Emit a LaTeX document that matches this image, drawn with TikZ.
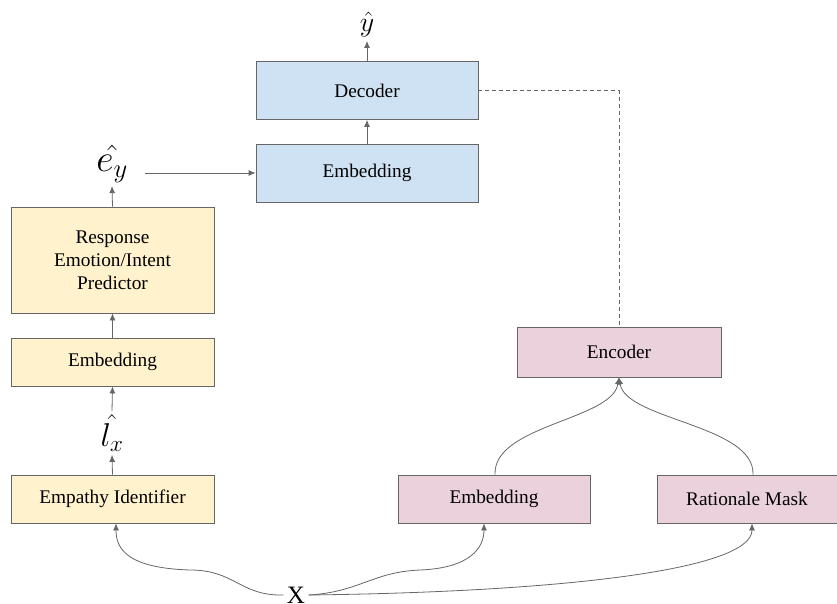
\RequirePackage{fix-cm}
\documentclass[tikz,border=0pt]{standalone}
\usepackage{fontspec}
\setmainfont{Liberation Serif}
\usetikzlibrary{arrows.meta}
\definecolor{boxyellow}{HTML}{FFF2CC}
\definecolor{boxblue}{HTML}{CFE2F3}
\definecolor{boxpink}{HTML}{EAD1DC}
\definecolor{edgegray}{HTML}{666666}
\begin{document}
\begin{tikzpicture}[x=1pt, y=-1pt,
            block/.style = {draw=edgegray, line width=0.8pt, rectangle, inner sep=0pt,
                            font=\fontsize{19.3}{23}\selectfont, align=center},
            arr/.style = {-{Latex[length=7pt,width=6pt]}, draw=edgegray, line width=0.8pt}]
            \useasboundingbox (0,0) rectangle (837,604);
            % decoder side
            \node[block, fill=boxblue, minimum width=222pt, minimum height=58pt] (dec) at (367,90.5) {Decoder};
            \node[block, fill=boxblue, minimum width=222pt, minimum height=58pt] (embB) at (367,173) {Embedding};
            % empathy side
            \node[block, fill=boxyellow, minimum width=203pt, minimum height=106pt] (pred) at (112.5,260) {Response\\Emotion/Intent\\Predictor};
            \node[block, fill=boxyellow, minimum width=203pt, minimum height=48pt] (embY) at (112.5,362) {Embedding};
            \node[block, fill=boxyellow, minimum width=203pt, minimum height=48pt] (empathy) at (112.5,499) {Empathy Identifier};
            % encoder side
            \node[block, fill=boxpink, minimum width=204pt, minimum height=50pt] (enc) at (619,352) {Encoder};
            \node[block, fill=boxpink, minimum width=192pt, minimum height=48pt] (embP) at (494,499) {Embedding};
            \node[block, fill=boxpink, minimum width=180pt, minimum height=48pt] (mask) at (747,499) {Rationale Mask};
            % outputs and input
            \node[font=\fontsize{28}{30}\selectfont] (yhat) at (367,25) {$\hat{y}$};
            \node[font=\fontsize{38}{40}\selectfont] (eyhat) at (112,164) {$\hat{e_y}$};
            \node[font=\fontsize{33}{35}\selectfont] (lxhat) at (112,433) {$\hat{l_x}$};
            \node[font=\fontsize{25}{27}\selectfont] (x) at (296,595) {X};

            \draw[arr] (dec.north) -- (yhat.south);
            \draw[arr] (embB.north) -- (dec.south);
            \draw[arr] (pred.north) -- (eyhat.south);
            \draw[arr, shorten <=14pt] (eyhat.east |- embB.west) -- (embB.west);
            \draw[arr] (embY.north) -- (pred.south);
            \draw[arr] (lxhat.north) -- (embY.south);
            \draw[arr] (empathy.north) -- (lxhat.south);
            \draw[draw=edgegray, line width=0.8pt, dash pattern=on 4pt off 3pt] (dec.east) -| (enc.north);

            \draw[arr] (x.west) .. controls (240,596) and (235,570) .. (190,570)
                .. controls (126,568) and (116,548) .. ([xshift=3.5pt]empathy.south);
            \draw[arr] (x.east) .. controls (360,592) and (372,572) .. (420,570)
                .. controls (470,568) and (484,548) .. ([xshift=-10pt]embP.south);
            \draw[arr] (x.east) .. controls (560,592) and (752,570) .. ([xshift=5pt]mask.south);
            \draw[arr] ([xshift=1pt]embP.north) .. controls (493,425) and (612,420) .. (enc.south);
            \draw[arr] ([xshift=6pt]mask.north) .. controls (755,425) and (626,420) .. (enc.south);
        \end{tikzpicture}
\end{document}
